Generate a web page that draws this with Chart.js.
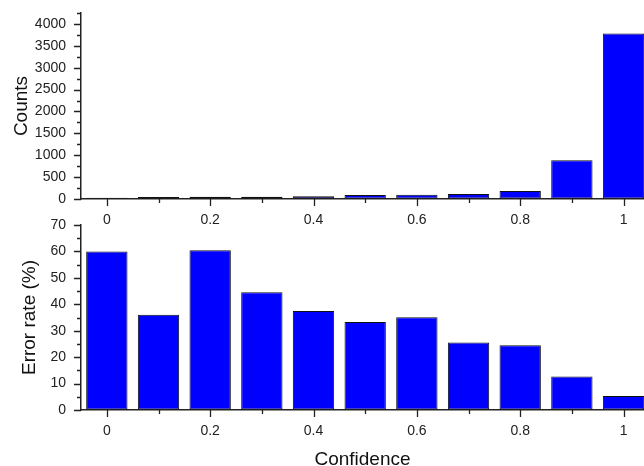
<!DOCTYPE html>
<html>
<head>
<meta charset="utf-8">
<script src="https://cdn.jsdelivr.net/npm/chart.js@4/dist/chart.umd.min.js"></script>
<style>
  html, body { margin: 0; padding: 0; background: #fff; overflow: hidden; }
  #wrap { position: relative; width: 644px; height: 466px; overflow: hidden; }
  #top { position: absolute; left: 0; top: 0; }
  #bottom { position: absolute; left: 0; top: 215px; }
</style>
</head>
<body>
<div id="wrap">
  <canvas id="top" width="644" height="230"></canvas>
  <canvas id="bottom" width="644" height="260"></canvas>
</div>
<script>
// --- Data ---
const confidence = [0, 0.1, 0.2, 0.3, 0.4, 0.5, 0.6, 0.7, 0.8, 0.9, 1.0];
const counts = [30, 45, 50, 50, 60, 90, 95, 112, 183, 885, 3780];
const errorRate = [60, 36, 60.4, 44.6, 37.5, 33.3, 35.1, 25.5, 24.5, 12.7, 5.3];
const xTickLabels = [0, 0.2, 0.4, 0.6, 0.8, 1];
const xMinorTicks = [0.1, 0.3, 0.5, 0.7, 0.9];
const countTicks = [0, 500, 1000, 1500, 2000, 2500, 3000, 3500, 4000];
const errorTicks = [0, 10, 20, 30, 40, 50, 60, 70];

const FONT = "'Liberation Sans', Arial, sans-serif";
const AXIS_LEFT = 81;
const INK = '#222';

// tick marks, major and minor, drawn outside the axes
function tickPlugin(yTicks) {
    const step = yTicks[1] - yTicks[0];
    return {
        id: 'axisTicks',
        afterDraw(chart) {
            const ctx = chart.ctx;
            const xs = chart.scales.x, ys = chart.scales.y;
            const left = chart.chartArea.left, bottom = chart.chartArea.bottom;
            ctx.save();
            ctx.strokeStyle = INK;
            ctx.lineWidth = 1.3;
            ctx.beginPath();
            yTicks.forEach(v => {
                let py = Math.round(ys.getPixelForValue(v)) + 0.5;
                ctx.moveTo(left, py); ctx.lineTo(left - 7, py);
                if (v + step / 2 <= ys.max) {
                    py = Math.round(ys.getPixelForValue(v + step / 2)) + 0.5;
                    ctx.moveTo(left, py); ctx.lineTo(left - 4, py);
                }
            });
            xTickLabels.forEach(v => {
                const px = Math.round(xs.getPixelForValue(v)) + 0.5;
                ctx.moveTo(px, bottom); ctx.lineTo(px, bottom + 7);
            });
            xMinorTicks.forEach(v => {
                const px = Math.round(xs.getPixelForValue(v)) + 0.5;
                ctx.moveTo(px, bottom); ctx.lineTo(px, bottom + 4);
            });
            ctx.stroke();
            ctx.restore();
        }
    };
}

function makeChart(id, values, yMax, yTicks, yTitle, titlePad, padTop, xHeight, showXTitle) {
    const hiddenGrid = { display: true, drawOnChartArea: false, drawTicks: true, tickLength: 7, color: 'rgba(0,0,0,0)', tickColor: 'rgba(0,0,0,0)' };
    return new Chart(document.getElementById(id), {
        type: 'bar',
        data: {
            datasets: [{
                data: confidence.map((c, i) => ({ x: c, y: values[i] })),
                backgroundColor: '#0000ff',
                borderColor: '#111',
                borderWidth: 1,
                borderSkipped: false,
                barPercentage: 0.8,
                categoryPercentage: 1.0
            }]
        },
        options: {
            responsive: false,
            animation: false,
            layout: { padding: { top: padTop, right: 0, left: 0, bottom: 0 } },
            plugins: { legend: { display: false }, tooltip: { enabled: false } },
            scales: {
                x: {
                    type: 'linear',
                    offset: false,
                    min: -0.05,
                    max: 1.0396,
                    afterBuildTicks: s => { s.ticks = xTickLabels.map(v => ({ value: v })); },
                    afterFit: s => { s.height = xHeight; s.paddingLeft = 0; s.paddingRight = 0; },
                    grid: hiddenGrid,
                    border: { color: INK, width: 1.5 },
                    ticks: { color: INK, font: { family: FONT, size: 14 }, padding: 6, maxRotation: 0, callback: v => String(v) },
                    title: { display: showXTitle, text: 'Confidence', color: '#111', font: { family: FONT, size: 19 }, padding: { top: 4, bottom: 4 } }
                },
                y: {
                    min: 0,
                    max: yMax,
                    afterBuildTicks: s => { s.ticks = yTicks.map(v => ({ value: v })); },
                    afterFit: s => { s.width = AXIS_LEFT; s.paddingTop = 0; s.paddingBottom = 0; },
                    grid: hiddenGrid,
                    border: { color: INK, width: 1.5 },
                    ticks: { color: INK, font: { family: FONT, size: 14 }, padding: 8, callback: v => String(v) },
                    title: { display: true, text: yTitle, color: '#111', font: { family: FONT, size: 19 }, padding: { top: titlePad, bottom: 0 } }
                }
            }
        },
        plugins: [tickPlugin(yTicks)]
    });
}

makeChart('top', counts, 4250, countTicks, 'Counts', 10, 13, 31, false);
makeChart('bottom', errorRate, 70, errorTicks, 'Error rate (%)', 18, 10, 65, true);
</script>
</body>
</html>
